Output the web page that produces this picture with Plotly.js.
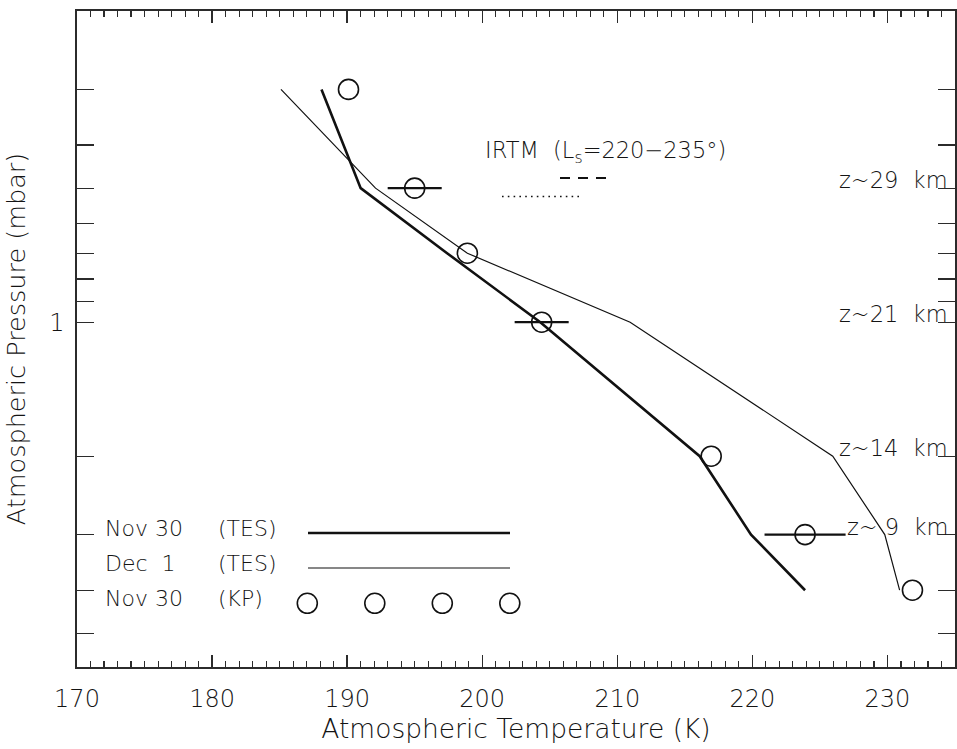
<!DOCTYPE html>
<html><head><meta charset="utf-8">
<script src="https://cdn.plot.ly/plotly-3.0.1.min.js"></script>
<style>html,body{margin:0;padding:0;background:#fff}</style>
</head><body>
<div id="chart" style="width:957px;height:749px"></div>
<script>
// ---- data ----
const pressure   = [0.3, 0.5, 0.7, 1, 2, 3, 4];            // mbar
const tesNov30   = [188.1, 191.0, 197.4, 204.3, 216.1, 219.9, 223.9]; // K
const tesDec1    = [185.1, 192.1, 198.9, 210.95, 225.95, 229.8, 230.9];
const kpNov30    = [190.1, 195.0, 198.9, 204.4, 216.95, 223.9, 231.85];
const kpErr      = [0, 2, 0, 2, 0, 3, 0];
const xTickVals  = [170, 180, 190, 200, 210, 220, 230];
const yTickVals  = [1];
const yTickText  = ['1'];
const yMinorVals = [0.3, 0.4, 0.5, 0.6, 0.7, 0.8, 0.9, 2, 3, 4, 5];
const altPressure = [0.5, 1, 2, 3];
const altLabels   = ['z~29\u00a0 km', 'z~21\u00a0 km', 'z~14\u00a0 km', 'z~\u00a09\u00a0 km'];
const legendDates   = ['Nov 30', 'Dec \u00a01', 'Nov 30'];
const legendSources = ['(TES)', '(TES)', '(KP)'];
const irtmLabel = 'IRTM \u00a0(L<sub>s</sub>=220\u2212235\u00b0)';

// ---- layout helpers (pixel -> paper) ----
const W = 957, H = 749, ML = 77, MR = 2, MT = 11, MB = 82;
const PW = W - ML - MR, PH = H - MT - MB;
const px = v => (v - ML) / PW;
const py = v => (H - MB - v) / PH;

const FONT = 'DejaVu Sans, Liberation Sans, sans-serif';
const FW = 300;
const TXT = '#141414';
const INK = '#111';
const AX = '#2b2b2b';

const traces = [
  {x: tesNov30, y: pressure, type: 'scatter', mode: 'lines', name: 'Nov 30 (TES)',
   line: {color: INK, width: 2.6}},
  {x: tesDec1, y: pressure, type: 'scatter', mode: 'lines', name: 'Dec 1 (TES)',
   line: {color: INK, width: 1.2}},
  {x: kpNov30, y: pressure, type: 'scatter', mode: 'markers', name: 'Nov 30 (KP)',
   marker: {symbol: 'circle-open', size: 20, color: INK, line: {width: 1.6, color: INK}},
   error_x: {type: 'data', array: kpErr, visible: true, width: 0, thickness: 2.2, color: INK}},
  // invisible copy on the top axis so its ticks are drawn
  {x: tesNov30, y: pressure, xaxis: 'x2', type: 'scatter', mode: 'lines', showlegend: false,
   line: {color: 'rgba(0,0,0,0)', width: 0}, hoverinfo: 'skip'}
];

const annotations = [];
altPressure.forEach((p, i) => annotations.push({
  xref: 'paper', yref: 'y', x: 1, y: Math.log10(p), xanchor: 'right', yanchor: 'bottom',
  xshift: -5, yshift: -7, text: altLabels[i], showarrow: false,
  font: {family: FONT, size: 22.5, color: TXT, weight: FW}
}));
const legY = [528, 563, 598];
legendDates.forEach((t, i) => {
  annotations.push({xref: 'paper', yref: 'paper', x: px(103), y: py(legY[i]), xanchor: 'left', yanchor: 'middle',
    text: t, showarrow: false, font: {family: FONT, size: 22, color: TXT, weight: FW}});
  annotations.push({xref: 'paper', yref: 'paper', x: px(216), y: py(legY[i]), xanchor: 'left', yanchor: 'middle',
    text: legendSources[i], showarrow: false, font: {family: FONT, size: 22, color: TXT, weight: FW}});
});
annotations.push({xref: 'paper', yref: 'paper', x: px(483), y: py(152), xanchor: 'left', yanchor: 'middle',
  text: irtmLabel, showarrow: false, font: {family: FONT, size: 22.5, color: TXT, weight: FW}});

const shapes = [
  {type: 'line', xref: 'paper', yref: 'paper', x0: px(308), x1: px(510), y0: py(533), y1: py(533),
   line: {color: INK, width: 2.6}},
  {type: 'line', xref: 'paper', yref: 'paper', x0: px(308), x1: px(510), y0: py(568), y1: py(568),
   line: {color: INK, width: 1.2}},
  {type: 'line', xref: 'paper', yref: 'paper', x0: px(560), x1: px(607), y0: py(178), y1: py(178),
   line: {color: INK, width: 2, dash: '10px,8px'}},
  {type: 'line', xref: 'paper', yref: 'paper', x0: px(502), x1: px(580), y0: py(196.5), y1: py(196.5),
   line: {color: INK, width: 1.6, dash: '1.6px,4.2px'}}
];
[307.3, 374.8, 442.3, 509.8].forEach(cx => shapes.push({
  type: 'circle', xref: 'paper', yref: 'paper', xsizemode: 'pixel', ysizemode: 'pixel',
  xanchor: px(cx), yanchor: py(603.3), x0: -10, x1: 10, y0: -10, y1: 10,
  line: {color: INK, width: 1.6}
}));

const layout = {
  width: W, height: H,
  margin: {l: ML, r: MR, t: MT, b: MB, pad: 0},
  paper_bgcolor: '#fff', plot_bgcolor: '#fff',
  showlegend: false,
  font: {family: FONT, color: TXT, size: 24, weight: FW},
  xaxis: {
    range: [170, 235], tickmode: 'array', tickvals: xTickVals,
    ticks: 'inside', ticklen: 12, tickwidth: 1.3, tickcolor: AX,
    minor: {dtick: 1, tick0: 170, ticks: 'inside', ticklen: 6, tickwidth: 1.1, tickcolor: AX, showgrid: false},
    showline: true, linecolor: AX, linewidth: 1.6, showgrid: false, zeroline: false,
    mirror: true, ticklabelstandoff: 10,
    tickfont: {family: FONT, size: 24, color: TXT, weight: FW},
    title: {text: 'Atmospheric Temperature (K)', font: {family: FONT, size: 26.5, color: TXT, weight: FW}, standoff: 3}
  },
  xaxis2: {
    overlaying: 'x', side: 'top', anchor: 'y', range: [170, 235],
    tickmode: 'array', tickvals: xTickVals, showticklabels: false,
    ticks: 'inside', ticklen: 12, tickwidth: 1.3, tickcolor: AX,
    minor: {dtick: 1, tick0: 170, ticks: 'inside', ticklen: 6, tickwidth: 1.1, tickcolor: AX, showgrid: false},
    showline: false, showgrid: false, zeroline: false
  },
  yaxis: {
    type: 'log', range: [Math.log10(5.95), Math.log10(0.2)],
    tickmode: 'array', tickvals: yTickVals, ticktext: yTickText,
    ticks: 'inside', ticklen: 17, tickwidth: 1.3, tickcolor: AX,
    minor: {tickmode: 'array', tickvals: yMinorVals, ticks: 'inside', ticklen: 10, tickwidth: 1.3, tickcolor: AX, showgrid: false},
    mirror: 'allticks', showline: true, linecolor: AX, linewidth: 1.6,
    showgrid: false, zeroline: false, ticklabelstandoff: 6,
    tickfont: {family: FONT, size: 24, color: TXT, weight: FW},
    title: {text: 'Atmospheric Pressure (mbar)', font: {family: FONT, size: 25.5, color: TXT, weight: FW}, standoff: 16}
  },
  annotations: annotations,
  shapes: shapes
};

Plotly.newPlot('chart', traces, layout, {displayModeBar: false, staticPlot: true});
</script>
</body></html>
